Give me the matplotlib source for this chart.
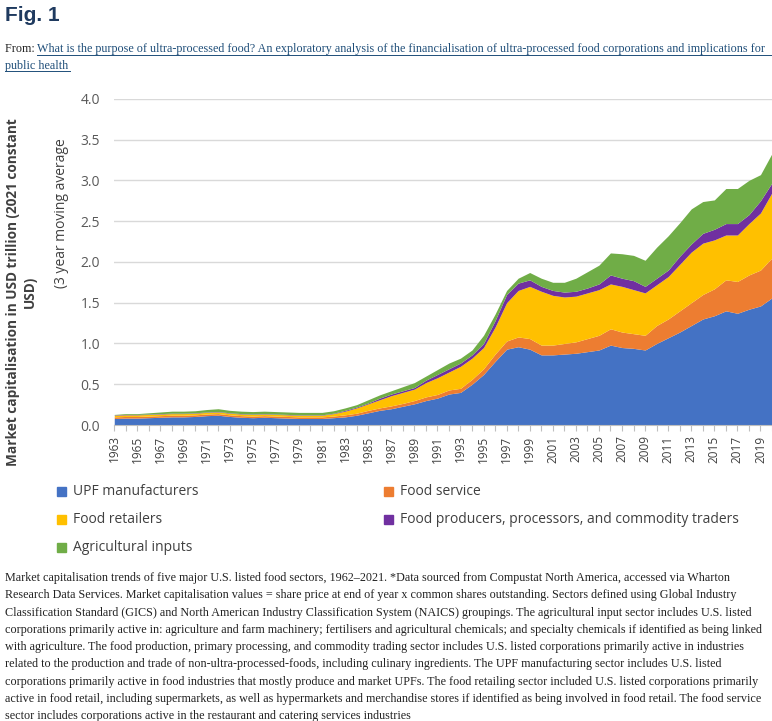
import matplotlib
matplotlib.use("Agg")
import matplotlib.pyplot as plt
import numpy as np

years = list(range(1963, 2021))
upf_top = [.08,.085,.085,.09,.095,.10,.10,.105,.115,.12,.105,.095,.09,.095,.09,.085,.08,.08,.08,.09,
           .10,.12,.15,.18,.20,.23,.26,.30,.33,.38,.40,.50,.62,.78,.93,.96,.93,.86,.86,.87,
           .88,.90,.92,.98,.95,.94,.92,1.0,1.07,1.14,1.22,1.30,1.34,1.40,1.37,1.42,1.46,1.56]
service_top = [.10,.105,.105,.11,.115,.12,.12,.125,.135,.14,.125,.115,.11,.115,.11,.105,.10,.10,.10,.11,
               .125,.145,.18,.21,.235,.265,.30,.345,.375,.43,.45,.56,.69,.87,1.03,1.08,1.06,.98,.98,1.0,
               1.02,1.06,1.10,1.18,1.14,1.12,1.10,1.22,1.30,1.40,1.50,1.60,1.67,1.78,1.76,1.84,1.90,2.05]
retail_top = [.12,.125,.125,.13,.135,.14,.14,.145,.155,.16,.145,.135,.13,.135,.13,.125,.12,.12,.12,.14,
              .17,.21,.26,.31,.36,.40,.44,.52,.58,.65,.72,.82,.95,1.2,1.5,1.65,1.7,1.64,1.59,1.57,
              1.58,1.62,1.66,1.73,1.70,1.66,1.62,1.72,1.82,1.97,2.12,2.23,2.27,2.33,2.33,2.47,2.60,2.85]
producers_top = [.125,.13,.13,.135,.14,.145,.145,.15,.16,.165,.15,.14,.135,.14,.135,.13,.125,.125,.125,.145,
                 .18,.22,.27,.33,.38,.42,.46,.55,.62,.69,.76,.86,1.0,1.28,1.6,1.74,1.78,1.70,1.65,1.63,
                 1.64,1.68,1.73,1.84,1.80,1.77,1.70,1.80,1.90,2.07,2.22,2.35,2.40,2.47,2.47,2.58,2.75,2.97]
agri_top = [.13,.14,.14,.15,.16,.17,.17,.175,.19,.20,.18,.17,.165,.17,.165,.16,.155,.155,.155,.175,
            .21,.25,.31,.37,.42,.47,.52,.60,.68,.76,.82,.92,1.1,1.36,1.65,1.80,1.87,1.80,1.75,1.75,
            1.80,1.88,1.96,2.11,2.10,2.08,2.02,2.18,2.32,2.48,2.65,2.74,2.76,2.90,2.90,3.00,3.07,3.33]

names = ["UPF manufacturers", "Food service", "Food retailers",
         "Food producers, processors, and commodity traders", "Agricultural inputs"]
colors = ["#4472C4", "#ED7D31", "#FFC000", "#7030A0", "#70AD47"]
tops = [upf_top, service_top, retail_top, producers_top, agri_top]

fig = plt.figure(figsize=(7.72, 7.21), dpi=100)
ax = fig.add_axes([0.148, 0.4105, 0.852, 0.4525])
x = np.array(years)
lower = np.zeros(len(years))
for t, c, n in zip(tops, colors, names):
    ax.fill_between(x, lower, t, color=c, lw=0, label=n)
    lower = np.array(t)
ax.set_xlim(1963, 2020)
ax.set_ylim(0, 4.0)
ax.set_yticks(np.arange(0, 4.01, 0.5))
ax.set_yticklabels([f"{v:.1f}" for v in np.arange(0, 4.01, 0.5)], fontsize=10, color="#595959", family="Open Sans")
ax.set_xticks(years)
ax.set_xticklabels([str(y) if (y - 1963) % 2 == 0 else "" for y in years], rotation=90, fontsize=8.5, color="#404040", family="Open Sans")
ax.tick_params(axis="x", length=4, color="#BFBFBF")
ax.tick_params(axis="y", length=0, pad=10)
ax.grid(axis="y", color="#D9D9D9", lw=1)
ax.set_axisbelow(True)
for s in ["top", "right", "left"]:
    ax.spines[s].set_visible(False)
ax.spines["bottom"].set_color("#BFBFBF")

fig.text(0.028, 0.595, "Market capitalisation in USD trillion (2021 constant\nUSD)", rotation=90,
         ha="center", va="center", fontsize=9.8, fontweight="bold", color="#404040", family="Open Sans", linespacing=1.3)
fig.text(0.080, 0.705, "(3 year moving average", rotation=90, ha="center", va="center",
         fontsize=10, color="#404040", family="Open Sans")

leg_pos = [(0.074, 0.319), (0.498, 0.319), (0.074, 0.280), (0.498, 0.280), (0.074, 0.241)]
for (lx, ly), c, n in zip(leg_pos, colors, names):
    fig.patches.append(plt.Rectangle((lx, ly - 0.007), 0.011, 0.0125, color=c, transform=fig.transFigure))
    fig.text(lx + 0.02, ly, n, va="center", fontsize=10, color="#404040", family="Open Sans")

fig.text(0.007, 0.978, "Fig. 1", fontsize=15, fontweight="bold", color="#1F3A5F", va="center", family="Liberation Sans")
fig.text(0.007, 0.932, "From: ", fontsize=8.7, color="#222222", va="center", family="Liberation Serif")
link1 = fig.text(0.048, 0.932, "What is the purpose of ultra-processed food? An exploratory analysis of the financialisation of ultra-processed food corporations and implications for",
                 fontsize=8.7, color="#1F4E79", va="center", family="Liberation Serif")
fig.text(0.007, 0.909, "public health", fontsize=8.7, color="#1F4E79", va="center", family="Liberation Serif")
fig.lines.append(plt.Line2D([0.048, 1.0], [0.924, 0.924], transform=fig.transFigure, color="#1F4E79", lw=0.7))
fig.lines.append(plt.Line2D([0.007, 0.091], [0.901, 0.901], transform=fig.transFigure, color="#1F4E79", lw=0.7))

caption = [
    "Market capitalisation trends of five major U.S. listed food sectors, 1962–2021. *Data sourced from Compustat North America, accessed via Wharton",
    "Research Data Services. Market capitalisation values = share price at end of year x common shares outstanding. Sectors defined using Global Industry",
    "Classification Standard (GICS) and North American Industry Classification System (NAICS) groupings. The agricultural input sector includes U.S. listed",
    "corporations primarily active in: agriculture and farm machinery; fertilisers and agricultural chemicals; and specialty chemicals if identified as being linked",
    "with agriculture. The food production, primary processing, and commodity trading sector includes U.S. listed corporations primarily active in industries",
    "related to the production and trade of non-ultra-processed-foods, including culinary ingredients. The UPF manufacturing sector includes U.S. listed",
    "corporations primarily active in food industries that mostly produce and market UPFs. The food retailing sector included U.S. listed corporations primarily",
    "active in food retail, including supermarkets, as well as hypermarkets and merchandise stores if identified as being involved in food retail. The food service",
    "sector includes corporations active in the restaurant and catering services industries",
]
for i, line in enumerate(caption):
    fig.text(0.007, 0.198 - i * 0.0239, line, fontsize=8.7, color="#222222", va="center", family="Liberation Serif")

fig.savefig("out.png", dpi=100)
